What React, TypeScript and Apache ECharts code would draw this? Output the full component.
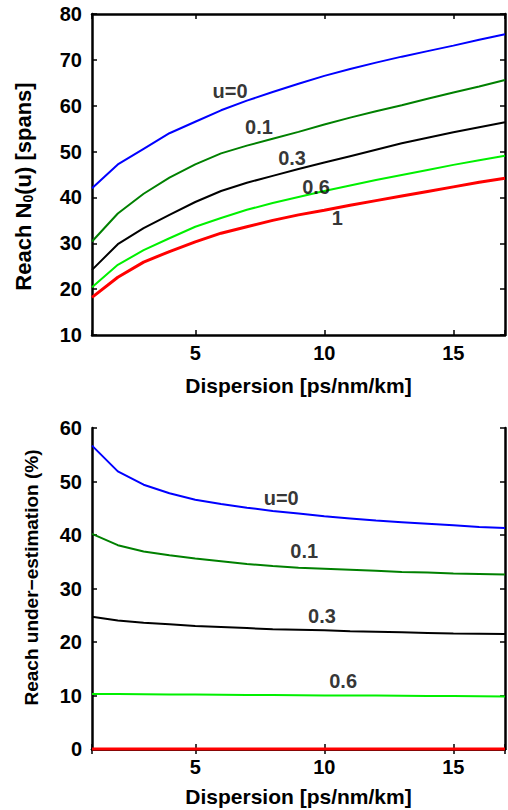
import React, { useEffect, useRef } from 'react';
import * as echarts from 'echarts';

const dispersion = [1, 2, 3, 4, 5, 6, 7, 8, 9, 10, 11, 12, 13, 14, 15, 16, 17];

// Top panel: reach N0(u) [spans]
const reachU0 = [42.0, 47.2, 50.6, 54.0, 56.5, 59.0, 61.1, 63.0, 64.8, 66.5, 68.0, 69.4, 70.7, 71.9, 73.1, 74.4, 75.6];
const reachU01 = [30.4, 36.5, 40.8, 44.3, 47.2, 49.6, 51.3, 52.8, 54.3, 55.9, 57.4, 58.8, 60.1, 61.5, 62.9, 64.2, 65.6];
const reachU03 = [24.2, 29.8, 33.3, 36.2, 39.0, 41.4, 43.2, 44.7, 46.2, 47.6, 49.0, 50.4, 51.8, 53.0, 54.2, 55.3, 56.4];
const reachU06 = [20.4, 25.3, 28.5, 31.1, 33.6, 35.5, 37.3, 38.8, 40.1, 41.4, 42.6, 43.8, 44.9, 46.0, 47.1, 48.1, 49.1];
const reachU1 = [18.2, 22.6, 25.9, 28.2, 30.3, 32.2, 33.6, 35.0, 36.2, 37.2, 38.3, 39.3, 40.3, 41.3, 42.3, 43.3, 44.2];

// Bottom panel: reach under-estimation (%)
const underU0 = [56.7, 51.9, 49.4, 47.8, 46.6, 45.8, 45.1, 44.5, 44.0, 43.5, 43.1, 42.7, 42.4, 42.1, 41.8, 41.5, 41.3];
const underU01 = [40.2, 38.1, 36.9, 36.2, 35.6, 35.1, 34.6, 34.2, 33.9, 33.7, 33.5, 33.3, 33.1, 33.0, 32.8, 32.7, 32.6];
const underU03 = [24.7, 24.0, 23.6, 23.3, 23.0, 22.8, 22.6, 22.4, 22.3, 22.2, 22.0, 21.9, 21.8, 21.7, 21.6, 21.55, 21.5];
const underU06 = [10.3, 10.3, 10.25, 10.2, 10.2, 10.15, 10.1, 10.1, 10.05, 10.0, 10.0, 10.0, 9.95, 9.9, 9.9, 9.85, 9.8];
const underU1 = [0, 0, 0, 0, 0, 0, 0, 0, 0, 0, 0, 0, 0, 0, 0, 0, 0];

const curveNames = ['u=0', '0.1', '0.3', '0.6', '1'];
const curveColors = ['#0000ff', '#008000', '#000000', '#00f000', '#ff0000'];

// Curve label anchors (data coordinates)
const topLabelX = [6.35, 7.47, 8.75, 9.68, 10.5];
const topLabelY = [63.2, 55.4, 48.6, 42.3, 35.5];
const bottomLabelX = [8.33, 9.22, 9.91, 10.73];
const bottomLabelY = [47.0, 37.1, 24.95, 12.8];

const FONT = '"Liberation Sans", Arial, Helvetica, sans-serif';

export default function App() {
  const ref = useRef<HTMLDivElement>(null);

  useEffect(() => {
    if (!ref.current) return;
    const chart = echarts.init(ref.current, null, { renderer: 'svg' });

    const axisLine = { show: true, lineStyle: { color: '#000', width: 2.5 } };
    const tick = { show: true, inside: true, length: 5, lineStyle: { color: '#000', width: 1.5 } };
    const label = { color: '#000', fontSize: 20, fontWeight: 'bold' as const, fontFamily: FONT };

    const xBase = (gridIndex: number, position: 'bottom' | 'top', showName: boolean) => ({
      type: 'value' as const,
      gridIndex,
      position,
      min: 1,
      max: 17,
      minInterval: 5,
      maxInterval: 5,
      axisLine,
      axisTick: tick,
      splitLine: { show: false },
      axisLabel: position === 'bottom'
        ? { ...label, margin: 8, formatter: (v: number) => (v % 5 === 0 ? String(v) : '') }
        : { show: false },
      name: showName ? 'Dispersion [ps/nm/km]' : '',
      nameLocation: 'middle' as const,
      nameGap: gridIndex === 0 ? 40 : 37,
      nameTextStyle: { color: '#000', fontSize: 21, fontWeight: 'bold' as const, fontFamily: FONT },
    });

    const yBase = (
      gridIndex: number,
      position: 'left' | 'right',
      min: number,
      max: number,
      name: string,
      gap: number,
      nameSize: number,
      namePadding: number[],
    ) => ({
      type: 'value' as const,
      gridIndex,
      position,
      min,
      max,
      interval: 10,
      axisLine,
      axisTick: tick,
      splitLine: { show: false },
      axisLabel: position === 'left' ? { ...label, margin: 10 } : { show: false },
      name,
      nameLocation: 'middle' as const,
      nameRotate: 90,
      nameGap: gap,
      nameTextStyle: {
        color: '#000',
        fontSize: nameSize,
        fontWeight: 'bold' as const,
        fontFamily: FONT,
        padding: namePadding,
        rich: {
          n: { fontSize: nameSize, fontWeight: 'bold', fontFamily: FONT, color: '#000' },
          sub: { fontSize: 14, fontWeight: 'bold', fontFamily: FONT, color: '#000', padding: [9, 0, 0, 0] },
        },
      },
    });

    const topSeriesData = [reachU0, reachU01, reachU03, reachU06, reachU1];
    const bottomSeriesData = [underU0, underU01, underU03, underU06, underU1];

    const lineSeries: any[] = [];
    topSeriesData.forEach((vals, i) => {
      lineSeries.push({
        type: 'line',
        name: 'top ' + curveNames[i],
        xAxisIndex: 0,
        yAxisIndex: 0,
        data: dispersion.map((d, k) => [d, vals[k]]),
        showSymbol: false,
        symbol: 'none',
        lineStyle: { color: curveColors[i], width: i === 4 ? 3 : 2 },
        z: 3,
      });
    });
    bottomSeriesData.forEach((vals, i) => {
      lineSeries.push({
        type: 'line',
        name: 'bottom ' + curveNames[i],
        xAxisIndex: 2,
        yAxisIndex: 2,
        data: dispersion.map((d, k) => [d, vals[k]]),
        showSymbol: false,
        symbol: 'none',
        clip: false,
        lineStyle: { color: curveColors[i], width: i === 4 ? 3 : 2 },
        z: 3,
      });
    });

    const labelStyle = {
      show: true,
      position: 'inside' as const,
      color: '#000',
      fontSize: 20,
      fontWeight: 'bold' as const,
      fontFamily: FONT,
      formatter: (p: any) => p.data[2],
    };

    lineSeries.push({
      type: 'scatter',
      xAxisIndex: 0,
      yAxisIndex: 0,
      symbolSize: 1,
      itemStyle: { color: 'rgba(0,0,0,0)' },
      data: topLabelX.map((x, i) => [x, topLabelY[i], curveNames[i]]),
      label: labelStyle,
      z: 5,
    });
    lineSeries.push({
      type: 'scatter',
      xAxisIndex: 2,
      yAxisIndex: 2,
      symbolSize: 1,
      itemStyle: { color: 'rgba(0,0,0,0)' },
      data: bottomLabelX.map((x, i) => [x, bottomLabelY[i], curveNames[i]]),
      label: labelStyle,
      z: 5,
    });

    chart.setOption({
      animation: false,
      backgroundColor: '#ffffff',
      grid: [
        { left: 92, right: 3, top: 14, height: 321 },
        { left: 92, right: 3, top: 428, height: 321 },
      ],
      xAxis: [
        xBase(0, 'bottom', true),
        xBase(0, 'top', false),
        xBase(1, 'bottom', true),
        xBase(1, 'top', false),
      ],
      yAxis: [
        yBase(0, 'left', 10, 80, '{n|Reach N}{sub|0}{n|(u) [spans]}', 57, 22, [0, 24, 0, 0]),
        yBase(0, 'right', 10, 80, '', 0, 22, [0, 0, 0, 0]),
        yBase(1, 'left', 0, 60, 'Reach under\u2212estimation (%)', 51, 19, [0, 0, 0, 22]),
        yBase(1, 'right', 0, 60, '', 0, 19, [0, 0, 0, 0]),
      ],
      series: lineSeries,
    });

    return () => chart.dispose();
  }, []);

  return (
    <div
      ref={ref}
      style={{ position: 'fixed', left: 0, top: 0, width: 508, height: 810, background: '#fff' }}
    />
  );
}
